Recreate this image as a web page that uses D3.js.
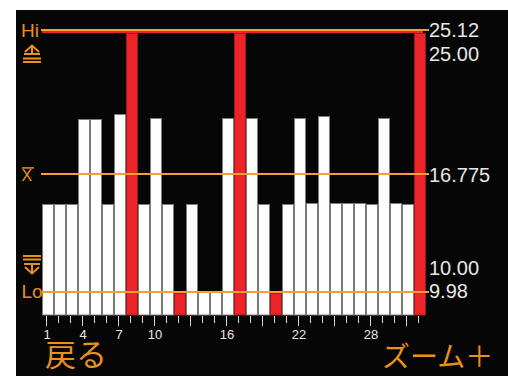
<!DOCTYPE html>
<html><head><meta charset="utf-8">
<script src="https://cdn.jsdelivr.net/npm/d3@7"></script>
<style>html,body{margin:0;padding:0;background:#fff;}svg{display:block;}</style>
</head><body>
<script>
// ---- data ----
const categories = d3.range(1, 33);
const values = [15.07,15.07,15.07,19.98,19.98,15.07,20.27,26.0,15.07,20.04,15.07,9.90,15.07,10.00,10.00,20.04,
                26.0,20.04,15.07,9.90,15.07,20.04,15.12,20.15,15.12,15.12,15.12,15.07,20.04,15.12,15.07,26.0];
const tickLabels = [1,4,7,10,16,22,28];
const hiLimit = 25.12, upperTol = 25.00, meanValue = 16.775, lowerTol = 10.00, loLimit = 9.98;
const displayMax = 24.95, baseValue = 8.65;
const hiLabel = "25.12", upperLabel = "25.00", meanLabel = "16.775", lowerLabel = "10.00", loLabel = "9.98";
const backText = "戻る", zoomText = "ズーム＋";

const W = 508, H = 376;
const orange = "#f2a033", orangeText = "#e8911c", red = "#ec2429", light = "#e6e6e6";
const svg = d3.select("body").append("svg").attr("width", W).attr("height", H);
svg.append("rect").attr("x",16).attr("y",10).attr("width",W-16).attr("height",H-10).attr("fill","#060606");

const x = d3.scaleBand().domain(categories).range([41, 425]).paddingInner(1/6).paddingOuter(1/12);
const y = d3.scaleLinear().domain([baseValue, hiLimit]).range([315, 30]);

// bars
svg.append("g").selectAll("rect").data(categories).join("rect")
  .attr("x", d => x(d) + 0.5)
  .attr("y", (d,i) => Math.round(y(Math.min(values[i], displayMax))) + 0.5)
  .attr("width", x.step() - 1)
  .attr("height", (d,i) => y(baseValue) - Math.round(y(Math.min(values[i], displayMax))) - 0.5)
  .attr("fill", (d,i) => (values[i] > hiLimit || values[i] < loLimit) ? red : "#fdfdfd")
  .attr("stroke", (d,i) => (values[i] > hiLimit || values[i] < loLimit) ? "#9a1c1c" : "#7a7a7a")
  .attr("stroke-width", 1);

// red display-top line
svg.append("line").attr("x1", 42).attr("x2", 423).attr("y1", y(displayMax)-1).attr("y2", y(displayMax)-1)
  .attr("stroke", red).attr("stroke-width", 2);

// limit lines
[[hiLimit,41],[meanValue,41],[loLimit,42]].forEach(([v,x1]) => {
  svg.append("line").attr("x1", x1).attr("x2", 429).attr("y1", Math.round(y(v))).attr("y2", Math.round(y(v)))
    .attr("stroke", orange).attr("stroke-width", 2);
});

// ticks
const tg = svg.append("g");
categories.forEach(d => {
  const cx = Math.round(x(d) + x.bandwidth()/2) - 0.5;
  tg.append("line").attr("x1", cx).attr("x2", cx).attr("y1", 316)
    .attr("y2", (d-1) % 3 === 0 ? 326 : 323).attr("stroke", "#d4d4d4").attr("stroke-width", 1);
});
tg.selectAll("text").data(tickLabels).join("text")
  .attr("x", d => x(d) + x.bandwidth()/2).attr("y", 339)
  .attr("text-anchor", "middle").attr("font-family", "Liberation Sans, Arial, sans-serif")
  .attr("font-size", 13).attr("fill", light).text(d => d);

// right labels
const rf = "Liberation Sans, Arial, sans-serif";
const rl = svg.append("g").attr("font-family", rf).attr("font-size", 20).attr("fill", light);
rl.append("text").attr("x", 429).attr("y", y(hiLimit) + 7).text(hiLabel);
rl.append("text").attr("x", 429).attr("y", y(hiLimit) + 31).text(upperLabel);
rl.append("text").attr("x", 429).attr("y", y(meanValue) + 7.5).text(meanLabel);
rl.append("text").attr("x", 429).attr("y", y(loLimit) - 17).text(lowerLabel);
rl.append("text").attr("x", 429).attr("y", y(loLimit) + 6).text(loLabel);

// left labels
const ll = svg.append("g").attr("font-family", rf).attr("fill", orangeText);
ll.append("text").attr("x", 21).attr("y", y(hiLimit) + 7).attr("font-size", 19).text("Hi");
ll.append("text").attr("x", 21.5).attr("y", y(loLimit) + 6).attr("font-size", 19).text("Lo");
ll.append("text").attr("x", 21.5).attr("y", y(meanValue) + 7).attr("font-size", 16).text("X");
ll.append("line").attr("x1", 22).attr("x2", 34).attr("y1", y(meanValue) - 6.5).attr("y2", y(meanValue) - 6.5)
  .attr("stroke", orangeText).attr("stroke-width", 1.5);

// upper tolerance symbol
const us = svg.append("g").attr("stroke", orangeText).attr("fill", "none").attr("stroke-width", 2);
us.append("path").attr("d", "M25,52 L32,45.5 L39,52 M32,46 L32,54 M24,54 L40,54 M23,58.5 L41,58.5 M23,62 L41,62");
// lower tolerance symbol
const ls = svg.append("g").attr("stroke", orangeText).attr("fill", "none").attr("stroke-width", 2);
ls.append("path").attr("d", "M23,256 L41,256 M23,259.5 L41,259.5 M24,264 L40,264 M32,264 L32,273 M25,267 L32,273.5 L39,267");

// bottom texts
const cjk = "Noto Sans CJK JP, sans-serif";
svg.append("text").attr("x", 45).attr("y", 366).attr("font-family", cjk).attr("font-size", 31)
  .attr("fill", orangeText).text(backText);
svg.append("text").attr("x", 382).attr("y", 367).attr("font-family", cjk).attr("font-size", 28)
  .attr("fill", orangeText).text(zoomText);
</script>
</body></html>
